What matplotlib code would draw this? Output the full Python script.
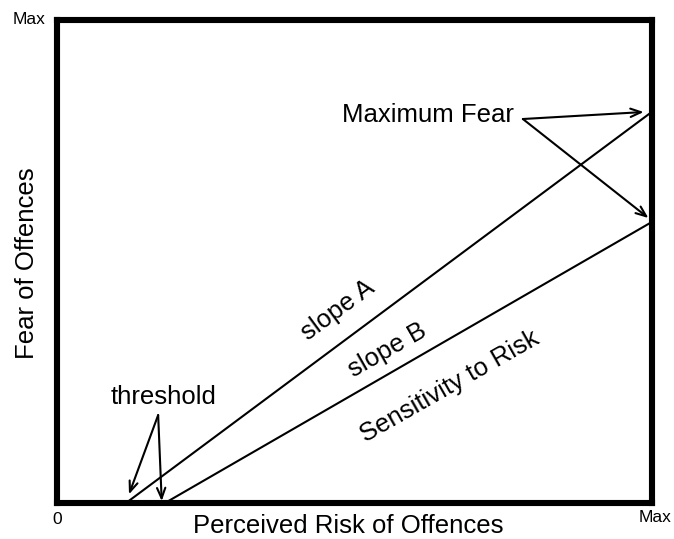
import matplotlib
matplotlib.use("Agg")
import matplotlib.pyplot as plt

plt.rcParams['font.family'] = ['Liberation Sans', 'DejaVu Sans']

# Data (normalised 0..Max on both axes)
line_a_x = [0.116, 1.0]
line_a_y = [0.0, 0.81]
line_b_x = [0.1815, 1.0]
line_b_y = [0.0, 0.582]

threshold_label = "threshold"
threshold_text_xy = (0.179, 0.219)
threshold_origin = (0.170, 0.182)
threshold_tips = [(0.121, 0.018), (0.176, 0.004)]

maxfear_label = "Maximum Fear"
maxfear_text_xy = (0.6235, 0.803)
maxfear_origin = (0.783, 0.795)
maxfear_tips = [(0.986, 0.8095), (0.994, 0.590)]

fig = plt.figure(figsize=(6.74, 5.39), dpi=100)
ax = fig.add_axes([57/674, 36/539, 595/674, 483/539])
ax.set_xlim(0, 1)
ax.set_ylim(0, 1)
for s in ax.spines.values():
    s.set_linewidth(4.4)
    s.set_color('black')
ax.set_xticks([])
ax.set_yticks([])

ax.plot(line_a_x, line_a_y, color='black', lw=1.5, solid_capstyle='butt')
ax.plot(line_b_x, line_b_y, color='black', lw=1.5, solid_capstyle='butt')

fs = 18.5
ax.text(0.472, 0.40, "slope A", rotation=36.5, ha='center', va='center', fontsize=fs)
ax.text(0.555, 0.317, "slope B", rotation=29.7, ha='center', va='center', fontsize=fs)
ax.text(0.66, 0.24, "Sensitivity to Risk", rotation=29.7, ha='center', va='center', fontsize=fs)

ax.text(*threshold_text_xy, threshold_label, ha='center', va='center', fontsize=fs)
for tip in threshold_tips:
    ax.annotate('', xy=tip, xytext=threshold_origin,
                arrowprops=dict(arrowstyle='->,head_length=0.75,head_width=0.3', lw=1.5, color='black',
                                shrinkA=0, shrinkB=0))

ax.text(*maxfear_text_xy, maxfear_label, ha='center', va='center', fontsize=fs)
for tip in maxfear_tips:
    ax.annotate('', xy=tip, xytext=maxfear_origin,
                arrowprops=dict(arrowstyle='->,head_length=0.75,head_width=0.3', lw=1.5, color='black',
                                shrinkA=0, shrinkB=0))

fig.text(29.5/674, 1 - 20/539, "Max", ha='center', va='center', fontsize=12.5)
fig.text(57/674, 1 - 520/539, "0", ha='center', va='center', fontsize=12.5)
fig.text(655/674, 1 - 517/539, "Max", ha='center', va='center', fontsize=12.5)

fig.text(348/674, 1 - 526/539, "Perceived Risk of Offences", ha='center', va='center', fontsize=fs)
fig.text(27/674, 1 - 263/539, "Fear of Offences", ha='center', va='center', rotation=90, fontsize=fs)

fig.savefig("out.png", dpi=100)
